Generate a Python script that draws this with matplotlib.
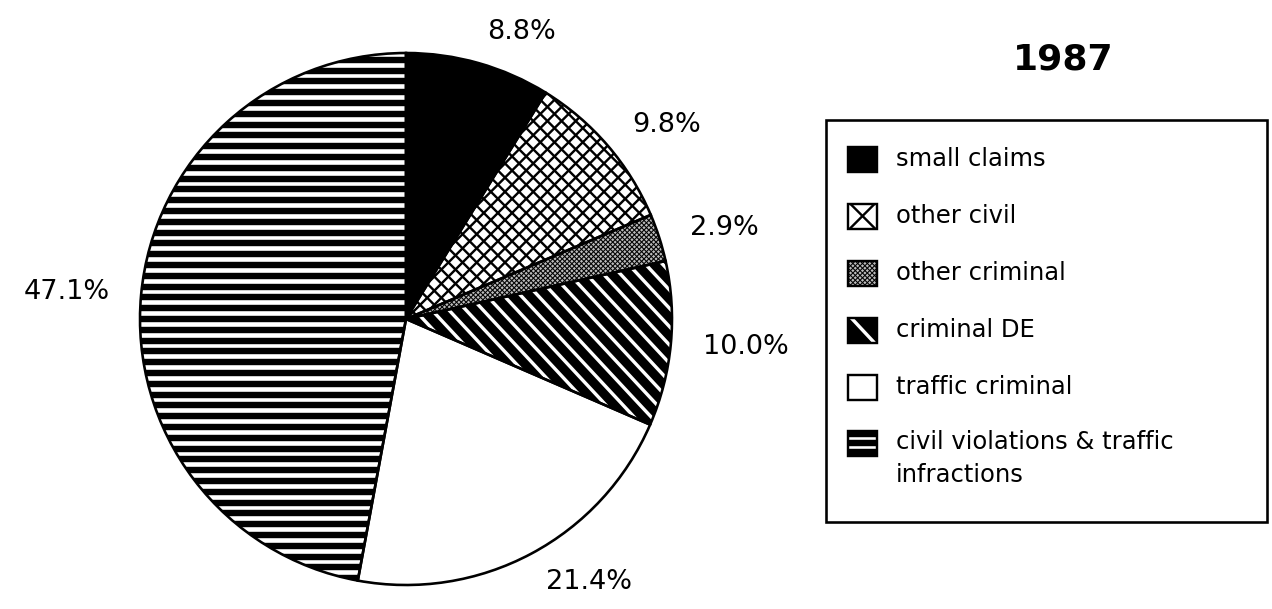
## Court caseload shares, 1987 - pie with hand-drawn fill patterns

import numpy as np
import matplotlib.pyplot as plt
from matplotlib.collections import LineCollection
from matplotlib.patches import Rectangle

## Data

categories = ['small claims', 'other civil', 'other criminal', 'criminal DE',
              'traffic criminal', 'civil violations & traffic\ninfractions']
shares = [8.8, 9.8, 2.9, 10.0, 21.4, 47.1]
pct_labels = ['8.8%', '9.8%', '2.9%', '10.0%', '21.4%', '47.1%']
year = '1987'

## Canvas in pixel units (y measured upward)

W, H = 1272, 609
DPI = 100

def pt(p): return p * 72 / DPI   # pixels -> points

## Fill patterns: (angle, gap, width, colour), gaps/widths in pixels

patterns = [
    dict(face='black', lines=[], key=1),
    dict(face='white', lines=[(45, 10, 2.4, 'black'), (-45, 10, 2.4, 'black')], key=3),
    dict(face='#bdbdbd', lines=[(45, 3.4, 1.1, 'black'), (-45, 3.4, 1.1, 'black')], key=1),
    dict(face='black', lines=[(-47, 12.5, 3.4, 'white')], key=2.5),
    dict(face='white', lines=[], key=1),
    dict(face='white', lines=[(0, 10.8, 6.4, 'black')], key=0.85),
]

def fill_lines(ax, clip, lines, bbox, scale=1.0):
    x0, y0, x1, y1 = bbox
    cx, cy = (x0 + x1) / 2, (y0 + y1) / 2
    L = np.hypot(x1 - x0, y1 - y0)
    for ang, gap, lw, col in lines:
        gap = gap * scale
        t = np.radians(ang)
        d = np.array([np.cos(t), np.sin(t)])
        n = np.array([-np.sin(t), np.cos(t)])
        k = int(np.ceil(L / 2 / gap))
        segs = []
        for o in np.arange(-k, k + 1) * gap:
            p = np.array([cx, cy]) + o * n
            segs.append([p - d * L / 2, p + d * L / 2])
        lc = LineCollection(segs, colors=col, linewidths=pt(lw), zorder=2)
        ax.add_collection(lc)
        lc.set_clip_path(clip)

fig = plt.figure(figsize=(W / DPI, H / DPI), dpi=DPI)
ax = fig.add_axes([0, 0, 1, 1])

## Pie

center = (406, H - 319)
radius = 266

wedges, texts = ax.pie(shares, labels=pct_labels, startangle=90, counterclock=False,
                       center=center, radius=radius, labeldistance=1.12,
                       colors=[p['face'] for p in patterns],
                       wedgeprops=dict(linewidth=0, zorder=1),
                       textprops=dict(fontsize=19.5, color='black'))
# pie picks the alignment from the sign of x, which is wrong off-origin
for t in texts:
    t.set_va('center')
    t.set_ha('left' if t.get_position()[0] > center[0] else 'right')

box = (center[0] - radius, center[1] - radius, center[0] + radius, center[1] + radius)
for w, p in zip(wedges, patterns):
    fill_lines(ax, w, p['lines'], box)

# outlines on top of the patterns
ax.pie(shares, startangle=90, counterclock=False, center=center, radius=radius,
       wedgeprops=dict(fill=False, edgecolor='black', linewidth=pt(2.6), zorder=3))

## Title

ax.text(1063, H - 60, year, fontsize=26, fontweight='bold', ha='center', va='center')

## Legend

ax.add_patch(Rectangle((826, H - 522), 441, 402, fill=False, edgecolor='black',
                       linewidth=pt(2.6), zorder=3))

row_y = [159, 216, 273, 330, 387, 443]
kw, kh = 29, 25
for cat, p, yy in zip(categories, patterns, row_y):
    y = H - yy
    sq = Rectangle((848, y - kh / 2), kw, kh, facecolor=p['face'], edgecolor='none', zorder=1)
    ax.add_patch(sq)
    fill_lines(ax, sq, p['lines'], (848, y - kh / 2, 848 + kw, y + kh / 2), scale=p['key'])
    ax.add_patch(Rectangle((848, y - kh / 2), kw, kh, fill=False, edgecolor='black',
                           linewidth=pt(2.4), zorder=3))
    if '\n' in cat:
        ax.text(896, y + 13, cat, fontsize=17.5, ha='left', va='top', linespacing=1.45)
    else:
        ax.text(896, y, cat, fontsize=17.5, ha='left', va='center')

ax.set_xlim(0, W)
ax.set_ylim(0, H)
ax.axis('off')

fig.savefig('out.png', dpi=DPI)
